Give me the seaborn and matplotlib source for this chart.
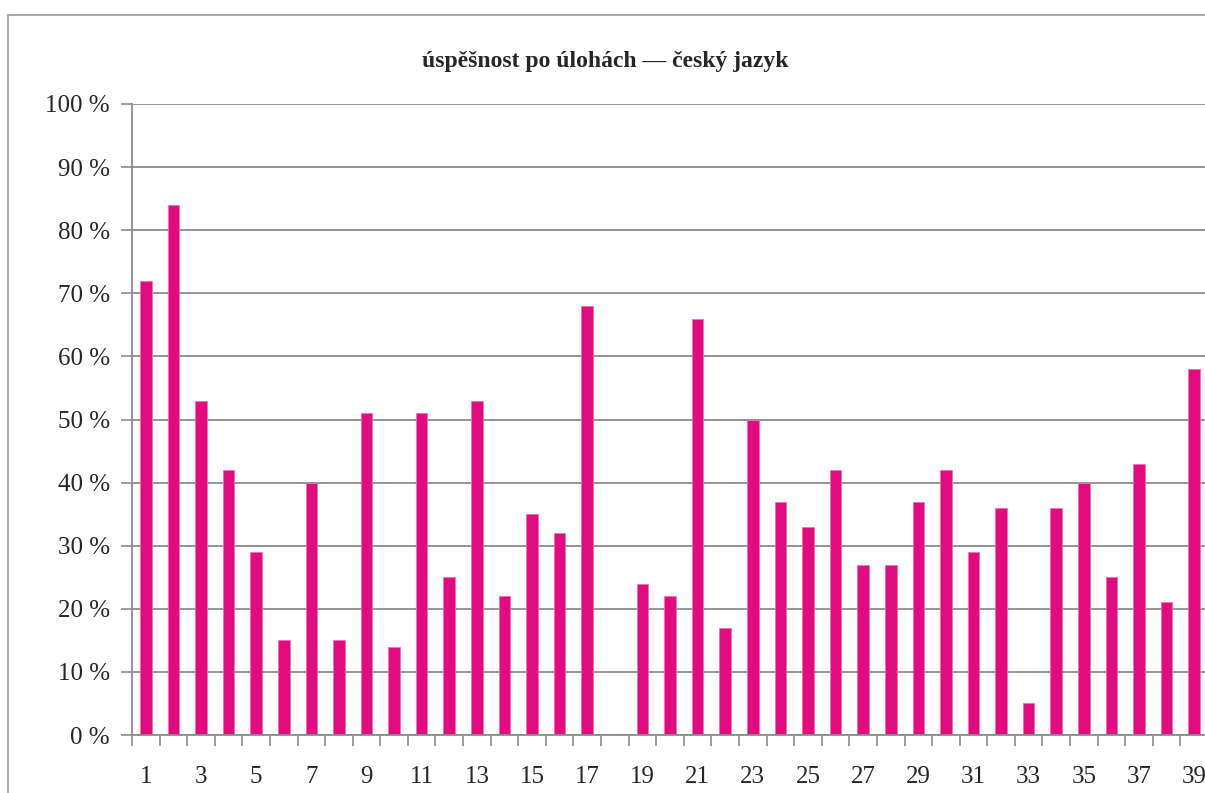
import numpy as np
import pandas as pd
import matplotlib
matplotlib.use("Agg")
import matplotlib.pyplot as plt
from matplotlib.patches import Rectangle
import seaborn as sns

sns.set_style("white")
plt.rcParams["font.family"] = ["Liberation Serif", "DejaVu Serif"]

# ===========================
# DATA
# ===========================

tasks = [str(i) for i in range(1, 40)]
success = [72, 84, 53, 42, 29, 15, 40, 15, 51, 14,
           51, 25, 53, 22, 35, 32, 68, 0, 24, 22,
           66, 17, 50, 37, 33, 42, 27, 27, 37, 42,
           29, 36, 5, 36, 40, 25, 43, 21, 58]
y_ticks = list(range(0, 101, 10))
y_labels = [f"{v} %" for v in y_ticks]

df = pd.DataFrame({"Task": tasks, "Success": success})

BAR_COLOR = "#E30B80"
GRID_COLOR = "#8C8C8C"

# ===========================
# FIGURE
# ===========================

fig = plt.figure(figsize=(12.05, 7.93), dpi=100)

# chart frame (cropped on right and bottom)
fig.patches.append(Rectangle(
    (8 / 1205, -0.1), 1.2, (793 - 15) / 793 + 0.1,
    transform=fig.transFigure,
    fill=False, edgecolor="#9A9A9A", linewidth=1.2
))

ax = fig.add_axes([132 / 1205, 58 / 793, 1076 / 1205, 631 / 793])

sns.barplot(
    data=df,
    x="Task",
    y="Success",
    color=BAR_COLOR,
    width=0.42,
    saturation=1,
    edgecolor="#F070B0",
    linewidth=0.6,
    ax=ax
)

ax.set_xlim(-0.5, len(tasks) - 0.5)
ax.set_ylim(0, 100)

ax.set_yticks(y_ticks)
ax.set_yticklabels(y_labels, fontsize=18)
ax.yaxis.grid(True, color=GRID_COLOR, linewidth=1.3)
ax.set_axisbelow(True)

# x labels on every other task, tick marks between tasks
ax.set_xticks(range(0, len(tasks), 2))
ax.set_xticklabels(tasks[::2], fontsize=18)
ax.set_xticks(np.arange(-0.5, len(tasks), 1), minor=True)
ax.tick_params(axis="x", which="major", bottom=True, length=0, pad=22)
ax.tick_params(axis="x", which="minor", bottom=True, length=8, width=1.2,
               color=GRID_COLOR, direction="out")
ax.tick_params(axis="y", left=True, length=8, width=1.2, color=GRID_COLOR,
               direction="out", pad=8)

for side in ["top", "right"]:
    ax.spines[side].set_visible(False)
for side in ["left", "bottom"]:
    ax.spines[side].set_color(GRID_COLOR)
    ax.spines[side].set_linewidth(1.3)

ax.set_xlabel("")
ax.set_ylabel("")

fig.text(
    605 / 1205, 1 - 62 / 793,
    "úspěšnost po úlohách — český jazyk",
    ha="center", va="center",
    fontsize=17, fontweight="bold"
)

plt.savefig("out.png", dpi=100)
